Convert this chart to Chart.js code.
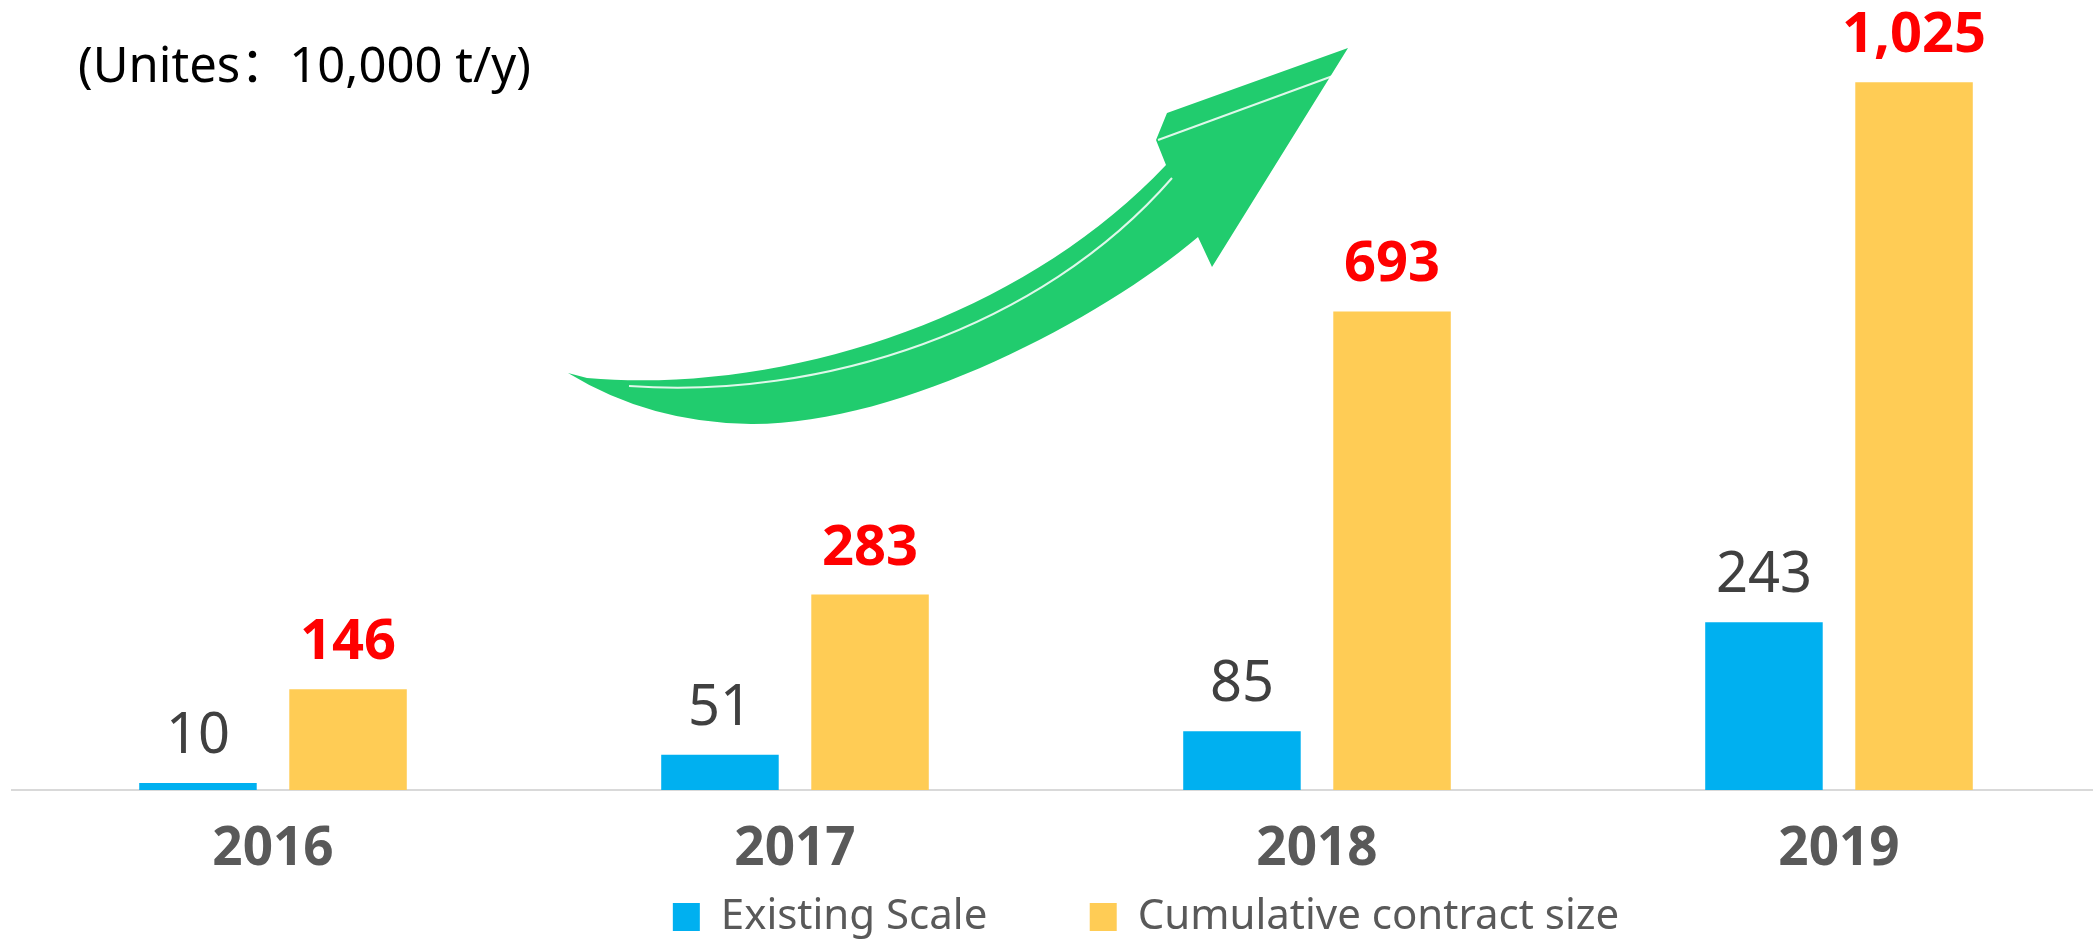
<!DOCTYPE html>
<html>
<head>
<meta charset="utf-8">
<title>Existing scale vs cumulative contract size</title>
<script src="https://cdn.jsdelivr.net/npm/chart.js@4.4.1/dist/chart.umd.min.js"></script>
<style>
html, body { margin: 0; padding: 0; background: #fff; overflow: hidden; }
#frame { position: relative; width: 2093px; height: 940px; overflow: hidden; }
/* canvas is a bit larger than the window so the plot and legend line up with the original */
#box { position: absolute; left: 0; top: 0; width: 2280px; height: 948px; }
</style>
</head>
<body>
<div id="frame"><div id="box"><canvas id="barChart"></canvas></div></div>
<script>
var years = ['2016', '2017', '2018', '2019'];
var existingScale = [10, 51, 85, 243];
var contractSize = [146, 283, 693, 1025];
var seriesNames = ['Existing Scale', 'Cumulative contract size'];
var unitText = '(Unites\uFF1A10,000 t/y)';
var yMax = 1144;

var FONT = "'Noto Sans', 'Noto Sans CJK SC', sans-serif";

function withCommas(v) {
  return String(v).replace(/\B(?=(\d{3})+(?!\d))/g, ',');
}

// numbers above the bars
var valueLabels = {
  id: 'valueLabels',
  afterDatasetsDraw: function(chart) {
    var ctx = chart.ctx;
    var looks = [
      { font: 'normal 56px ' + FONT, color: '#404040' },
      { font: 'bold 56px ' + FONT, color: '#ff0000' }
    ];
    ctx.save();
    ctx.textAlign = 'center';
    ctx.textBaseline = 'alphabetic';
    chart.data.datasets.forEach(function(ds, i) {
      var meta = chart.getDatasetMeta(i);
      ctx.font = looks[i].font;
      ctx.fillStyle = looks[i].color;
      meta.data.forEach(function(bar, j) {
        ctx.fillText(withCommas(ds.data[j]), bar.x, bar.y - 30);
      });
    });
    ctx.restore();
  }
};

// unit note + the big green growth arrow
var decorations = {
  id: 'decorations',
  beforeDatasetsDraw: function(chart) {
    var ctx = chart.ctx;
    ctx.save();
    ctx.font = 'normal 49px ' + FONT;
    ctx.fillStyle = '#000';
    ctx.textAlign = 'left';
    ctx.textBaseline = 'alphabetic';
    ctx.fillText(unitText, 78, 82);

    ctx.fillStyle = '#21cc6e';
    ctx.beginPath();
    ctx.moveTo(568, 373);
    ctx.lineTo(587, 378);
    ctx.bezierCurveTo(780, 395, 1020, 320, 1166, 165);
    ctx.lineTo(1156, 140);
    ctx.lineTo(1167, 113);
    ctx.lineTo(1348, 48);
    ctx.lineTo(1212, 267);
    ctx.lineTo(1198, 237);
    ctx.bezierCurveTo(1100, 320, 900, 425, 751, 424);
    ctx.quadraticCurveTo(650, 423, 568, 373);
    ctx.closePath();
    ctx.fill();

    ctx.strokeStyle = 'rgba(255,255,255,0.85)';
    ctx.lineWidth = 2;
    ctx.beginPath();
    ctx.moveTo(1172, 178);
    ctx.bezierCurveTo(1040, 330, 820, 400, 629, 386);
    ctx.stroke();
    ctx.beginPath();
    ctx.moveTo(1158, 140);
    ctx.lineTo(1341, 73);
    ctx.stroke();
    ctx.restore();
  }
};

var ctx = document.getElementById('barChart').getContext('2d');
var myChart = new Chart(ctx, {
  type: 'bar',
  data: {
    labels: years,
    datasets: [
      {
        label: seriesNames[0],
        data: existingScale,
        backgroundColor: '#00b0f0',
        borderWidth: 0
      },
      {
        label: seriesNames[1],
        data: contractSize,
        backgroundColor: '#ffcc55',
        borderWidth: 0
      }
    ]
  },
  options: {
    responsive: true,
    maintainAspectRatio: false,
    animation: false,
    categoryPercentage: 0.575,
    barPercentage: 0.783,
    layout: { padding: { left: 12, right: 0, top: 0, bottom: 0 } },
    plugins: {
      tooltip: { enabled: false },
      legend: {
        position: 'bottom',
        labels: {
          color: '#595959',
          font: { family: FONT, size: 42 },
          boxWidth: 27,
          boxHeight: 28,
          padding: 15,
          // wide gap between the two entries, like the original
          generateLabels: function(chart) {
            var items = Chart.defaults.plugins.legend.labels.generateLabels(chart);
            items[0].text = items[0].text + '        ';
            return items;
          }
        }
      }
    },
    scales: {
      x: {
        grid: { display: false, drawTicks: false },
        border: { display: true, color: '#d9d9d9', width: 2 },
        ticks: {
          color: '#595959',
          padding: 28,
          font: { family: FONT, size: 53, weight: 'bold' }
        },
        afterFit: function(scale) { scale.height = 91; }
      },
      y: {
        position: 'right',
        min: 0,
        max: yMax,
        grid: { display: false, drawTicks: false },
        border: { display: false },
        ticks: { display: false },
        afterFit: function(scale) { scale.width = 180; }
      }
    }
  },
  plugins: [decorations, valueLabels]
});
</script>
</body>
</html>
